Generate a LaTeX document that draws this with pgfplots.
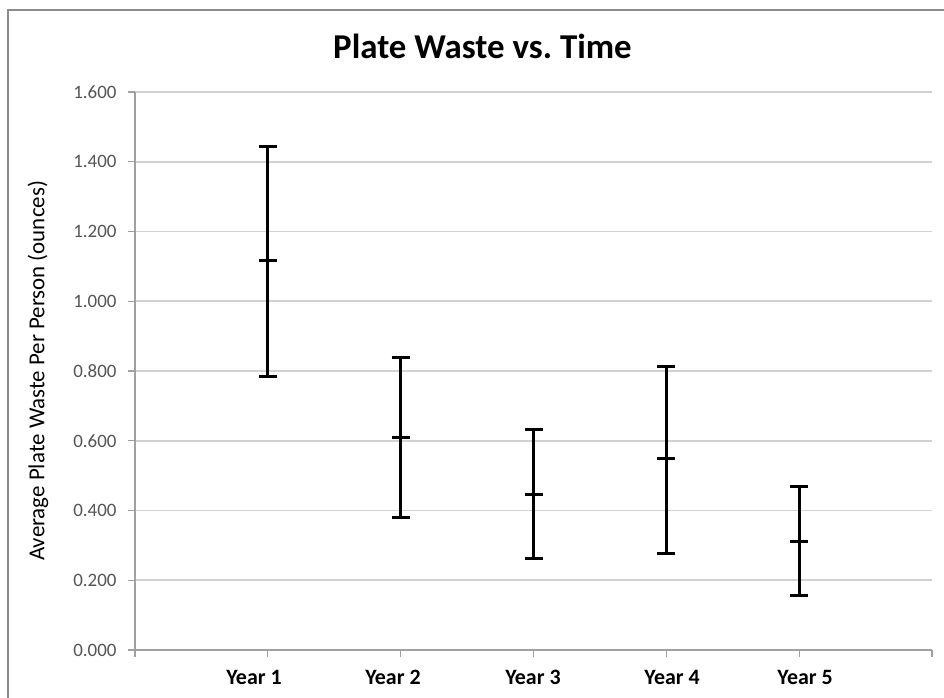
\documentclass[border=0pt]{standalone}
\usepackage{fontspec}
\setmainfont{Carlito}
\usepackage{pgfplots}
\pgfplotsset{compat=1.18}
\usepackage{pgfplotstable}

\definecolor{gridgray}{HTML}{D2D2D2}
\definecolor{axisgray}{HTML}{A0A0A0}
\definecolor{framegray}{HTML}{8C8C8C}
\definecolor{labelgray}{HTML}{555555}

% x, mean, plus, minus
\pgfplotstableread{
x  y      ep     em
1  1.116  0.327  0.333
2  0.610  0.230  0.231
3  0.447  0.184  0.185
4  0.549  0.265  0.273
5  0.310  0.159  0.153
}\waste

\begin{document}
\begin{tikzpicture}[x=1bp,y=1bp]
\useasboundingbox (0,0) rectangle (944,698);
\fill[white] (0,0) rectangle (944,698);
% chart area frame
\draw[framegray, line width=2bp] (8,-20) rectangle (960,688);
\begin{axis}[
  at={(135bp,48bp)}, anchor=origin,
  scale only axis, width=797bp, height=558bp,
  xmin=0, xmax=6, ymin=0, ymax=1.6,
  xtick={0,...,6},
  xticklabels={},
  extra x ticks={0.896,1.942,2.996,4.043,5.044},
  extra x tick labels={Year 1,Year 2,Year 3,Year 4,Year 5},
  extra x tick style={major tick length=0pt},
  ytick={0,0.2,...,1.6},
  yticklabel style={/pgf/number format/fixed, /pgf/number format/fixed zerofill, /pgf/number format/precision=3},
  /pgf/number format/assume math mode=true,
  ymajorgrids, major grid style={gridgray, line width=1.6bp},
  axis x line*=bottom, axis y line*=left,
  axis line style={axisgray, line width=1.2bp, -},
  tick style={axisgray, line width=1.2bp},
  major tick length=7bp,
  tick align=outside,
  x tick label style={font=\fontsize{22}{26}\selectfont\bfseries, text=black, anchor=base, yshift=-35bp},
  y tick label style={font=\fontsize{19}{22}\selectfont, text=labelgray, xshift=-8bp},
  ylabel={Average Plate Waste Per Person (ounces)},
  ylabel style={font=\fontsize{23}{27}\selectfont, text=black,
    at={(axis description cs:-0.1217,0.5)}, anchor=center},
  title={Plate Waste vs.\ Time},
  title style={font=\fontsize{35}{40}\selectfont\bfseries,
    at={(axis description cs:0.5,1)}, anchor=base, yshift=28bp, xshift=-51bp},
  clip=false,
]
\addplot[only marks, black, mark=-, mark size=9bp, mark options={line width=3bp},
  error bars/.cd, y dir=both, y explicit,
  error bar style={line width=2.8bp, black},
  error mark options={rotate=90, mark size=9bp, line width=3bp, black}]
  table[x=x, y=y, y error plus=ep, y error minus=em] {\waste};
\end{axis}
\end{tikzpicture}
\end{document}
